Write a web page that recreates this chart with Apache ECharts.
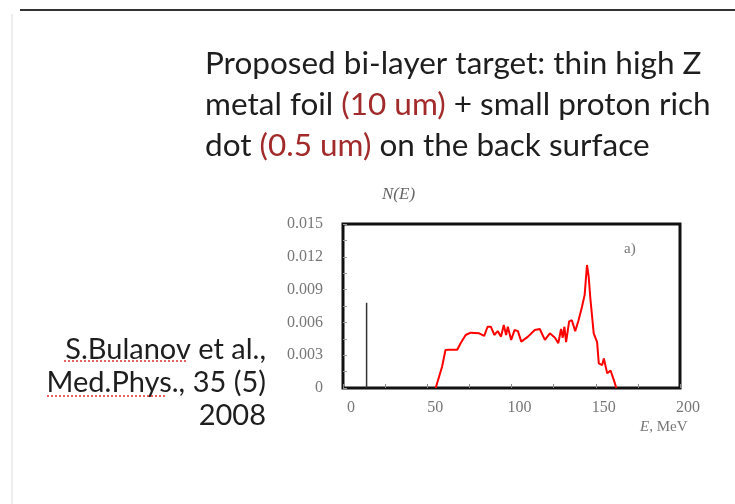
<!DOCTYPE html>
<html>
<head>
<meta charset="utf-8">
<script src="https://cdn.jsdelivr.net/npm/echarts@6/dist/echarts.min.js"></script>
<style>
  html, body { margin: 0; padding: 0; background: #fff; }
  #chart { width: 735px; height: 504px; }
</style>
</head>
<body>
<div id="chart"></div>
<script>
// proton spectrum N(E) vs E (MeV)
const energy = [55, 58.8, 60.8, 62.8, 67.8, 69.8, 72.8, 75.8, 80.8, 83.8, 85.8, 87.8, 89.8, 91.8, 93.8, 95.4, 96.8, 97.8, 99.8, 101.8, 103.8, 105.8, 109.8, 113.8, 116.8, 119.8, 122.8, 125.8, 127.8, 129.4, 130.4, 131.4, 132.4, 134.2, 135.8, 137.8, 139.8, 141.8, 143.4, 144.8, 145.8, 146.8, 148.8, 150.8, 151.8, 153.8, 154.8, 156.8, 158.8, 160.8, 162.2];
const counts = [0, 0.00195, 0.00348, 0.0035, 0.0035, 0.0041, 0.00485, 0.00506, 0.005, 0.00476, 0.0056, 0.0056, 0.00485, 0.0052, 0.0047, 0.00576, 0.00485, 0.0056, 0.0044, 0.0053, 0.0052, 0.00424, 0.0047, 0.0053, 0.0054, 0.0044, 0.005, 0.0046, 0.0041, 0.0054, 0.0046, 0.0056, 0.0042, 0.0061, 0.0062, 0.0052, 0.0062, 0.0074, 0.0085, 0.01125, 0.0102, 0.0082, 0.005, 0.0042, 0.00226, 0.0021, 0.0027, 0.00134, 0.0016, 0.0007, 0];
// single low-energy line
const lineE = [14, 14];
const lineN = [0, 0.0078];

const chart = echarts.init(document.getElementById('chart'));
const serif = 'Liberation Serif';
const sans = 'Lato';

const option = {
  animation: false,
  grid: {
    left: 343, right: 55, top: 224, bottom: 116,
    show: true, borderColor: '#111', borderWidth: 3
  },
  xAxis: {
    type: 'value', min: 0, max: 200, interval: 50,
    axisLine: { show: false },
    axisTick: { inside: true, length: 4, lineStyle: { color: '#888' } },
    minorTick: { show: true, splitNumber: 2, length: 4, lineStyle: { color: '#888' } },
    splitLine: { show: false },
    axisLabel: {
      fontFamily: serif, fontSize: 16, color: '#777', margin: 12,
      padding: [0, 0, 0, 16]
    }
  },
  yAxis: {
    type: 'value', min: 0, max: 0.015, interval: 0.003,
    axisLine: { show: false },
    axisTick: { inside: true, length: 4, lineStyle: { color: '#999' } },
    minorTick: { show: true, splitNumber: 2, length: 4, lineStyle: { color: '#999' } },
    splitLine: { show: false },
    axisLabel: {
      fontFamily: serif, fontSize: 16, color: '#777', margin: 20,
      formatter: v => v === 0 ? '0' : v.toFixed(3)
    }
  },
  series: [
    {
      type: 'line', symbol: 'none',
      data: energy.map((e, i) => [e, counts[i]]),
      lineStyle: { color: '#ff0000', width: 2 }
    },
    {
      type: 'line', symbol: 'none',
      data: lineE.map((e, i) => [e, lineN[i]]),
      lineStyle: { color: '#333', width: 1.5 }
    }
  ],
  graphic: [
    { type: 'line', shape: { x1: 20, y1: 10, x2: 735, y2: 10 }, style: { stroke: '#333', lineWidth: 2 } },
    { type: 'line', shape: { x1: 12, y1: 14, x2: 12, y2: 504 }, style: { stroke: '#ddd', lineWidth: 1 } },
    {
      type: 'text', left: 205, top: 43,
      style: {
        text: 'Proposed bi-layer target: thin high Z\nmetal foil {r|(10 um)} + small proton rich\ndot {r|(0.5 um)} on the back surface',
        font: '31.5px ' + sans, fill: '#1e1e1e', lineHeight: 41,
        rich: { r: { fill: '#a32a2a', font: '31.5px ' + sans, lineHeight: 41 } }
      }
    },
    {
      type: 'text', x: 266, y: 333,
      style: {
        text: 'S.Bulanov et al.,\nMed.Phys., 35 (5)\n2008',
        font: '29px ' + sans, fill: '#1e1e1e', align: 'right', lineHeight: 33
      }
    },
    { type: 'line', shape: { x1: 64, y1: 361, x2: 186, y2: 361 }, style: { stroke: '#e03030', lineWidth: 1.5, lineDash: [2, 2] } },
    { type: 'line', shape: { x1: 47, y1: 396, x2: 165, y2: 396 }, style: { stroke: '#e03030', lineWidth: 1.5, lineDash: [2, 2] } },
    { type: 'text', x: 382, y: 186, style: { text: 'N(E)', font: 'italic 17px ' + serif, fill: '#666' } },
    { type: 'text', x: 624, y: 242, style: { text: 'a)', font: '15px ' + serif, fill: '#777' } },
    {
      type: 'text', x: 640, y: 420,
      style: {
        text: '{i|E}, MeV', font: '15px ' + serif, fill: '#777',
        rich: { i: { font: 'italic 15px ' + serif, fill: '#777' } }
      }
    }
  ]
};

chart.setOption(option);
</script>
</body>
</html>
